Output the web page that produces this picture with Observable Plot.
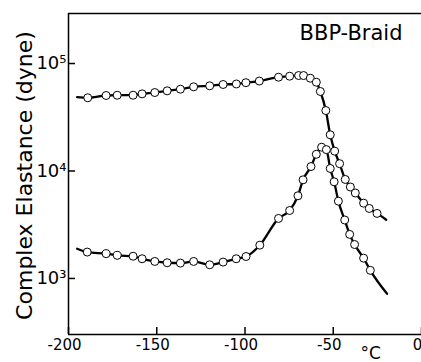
<!DOCTYPE html>
<html><head><meta charset="utf-8">
<script src="https://cdn.jsdelivr.net/npm/d3@7"></script>
<script src="https://cdn.jsdelivr.net/npm/@observablehq/plot@0.6"></script>
<style>body{margin:0;background:#fff} svg{display:block}</style>
</head><body><div id="chart"></div>
<script>
// Temperature (°C) and complex elastance (dyne)
const upperT = [-189.1,-178.7,-172.4,-163.4,-158.3,-151.1,-144.1,-136.6,-129.1,-120.0,-112.4,-104.9,-99.5,-91.9,-81.0,-74.7,-69.6,-66.8,-63.0,-59.6,-57.3,-54.2,-51.7,-49.2,-46.4,-43.2,-40.3,-37.5,-32.8,-29.6,-25.2];
const upperE = [48000,50400,50700,50700,52200,53700,55700,57700,60700,62000,63800,64500,66300,68700,74600,76200,77300,77300,73000,67000,54900,36500,21700,15300,11700,8340,7100,6240,5020,4480,4030];
const upperCurveStart = [-195.1, 48600];
const upperCurveEnd = [-20.0, 3520];

const lowerT = [-189.4,-178.7,-172.4,-163.4,-158.3,-151.1,-144.1,-136.6,-129.1,-120.0,-112.4,-105.0,-99.4,-91.6,-81.0,-74.7,-70.0,-67.1,-62.6,-59.6,-56.6,-53.9,-51.7,-49.5,-47.1,-43.5,-40.7,-37.9,-32.8,-29.0];
const lowerE = [1760,1700,1640,1610,1525,1440,1400,1390,1440,1340,1420,1525,1600,2040,3620,4290,5880,8280,11000,14300,16650,15800,10550,7930,5240,3500,2570,2070,1545,1190];
const lowerCurveStart = [-195.1, 1890];
const lowerCurveEnd = [-19.5, 720];

const xTicks = [-200,-150,-100,-50,0];
const yTicks = [1e3,1e4,1e5];
const xDomain = [-200, 0];
const yDomain = [301, 292000];
const title = "BBP-Braid";
const yLabel = "Complex Elastance (dyne)";
const xUnit = "°C";

const pts = (T, E) => T.map((t, i) => ({t, e: E[i]}));
const upperPts = pts(upperT, upperE);
const lowerPts = pts(lowerT, lowerE);
const upperCurve = [{t: upperCurveStart[0], e: upperCurveStart[1]}, ...upperPts, {t: upperCurveEnd[0], e: upperCurveEnd[1]}];
const lowerCurve = [{t: lowerCurveStart[0], e: lowerCurveStart[1]}, ...lowerPts, {t: lowerCurveEnd[0], e: lowerCurveEnd[1]}];

const sup = {"3": "³", "4": "⁴", "5": "⁵"};
const font = "DejaVu Sans";
const W = 421, H = 362, mL = 68, mR = 0, mT = 13, mB = 28;
const tickLen = 7;

const chart = Plot.plot({
  width: W, height: H,
  marginLeft: mL, marginRight: mR, marginTop: mT, marginBottom: mB,
  x: {domain: xDomain},
  y: {type: "log", domain: yDomain},
  style: {fontFamily: font, background: "white", color: "black"},
  marks: [
    Plot.ruleX([xDomain[0]], {stroke: "black", strokeWidth: 1.5}),
    Plot.ruleY([yDomain[0]], {stroke: "black", strokeWidth: 1.5}),
    Plot.ruleY([yDomain[1]], {stroke: "black", strokeWidth: 1.3}),
    // inward tick marks
    Plot.tickX(xTicks, {x: d => d, stroke: "black", strokeWidth: 1.5, insetTop: (H - mT - mB) - tickLen}),
    Plot.tickY(yTicks, {y: d => d, stroke: "black", strokeWidth: 1.5, insetRight: (W - mL - mR) - tickLen}),
    Plot.axisX({ticks: xTicks, tickSize: 0, tickPadding: 5, fontSize: 15, dx: -4,
      tickFormat: d => String(d), label: null}),
    Plot.axisY({ticks: yTicks, tickSize: 0, tickPadding: 2, fontSize: 18,
      tickFormat: d => "10" + sup[String(Math.round(Math.log10(d)))], label: null}),
    Plot.line(upperCurve, {x: "t", y: "e", curve: "monotone-x", stroke: "black", strokeWidth: 2.3}),
    Plot.line(lowerCurve, {x: "t", y: "e", curve: "monotone-x", stroke: "black", strokeWidth: 2.3}),
    Plot.dot(upperPts, {x: "t", y: "e", r: 4, fill: "white", stroke: "black", strokeWidth: 1}),
    Plot.dot(lowerPts, {x: "t", y: "e", r: 4, fill: "white", stroke: "black", strokeWidth: 1}),
    Plot.text([title], {frameAnchor: "top-right", textAnchor: "end", lineAnchor: "top", dx: -19, dy: 12, fontSize: 21}),
    Plot.text([xUnit], {frameAnchor: "bottom-right", textAnchor: "start", lineAnchor: "top", dx: -61, dy: 12, fontSize: 17}),
    Plot.text([yLabel], {frameAnchor: "left", textAnchor: "middle", rotate: -90, dx: -44, dy: 1.5, fontSize: 22})
  ]
});
document.getElementById("chart").appendChild(chart);
</script>
</body></html>
